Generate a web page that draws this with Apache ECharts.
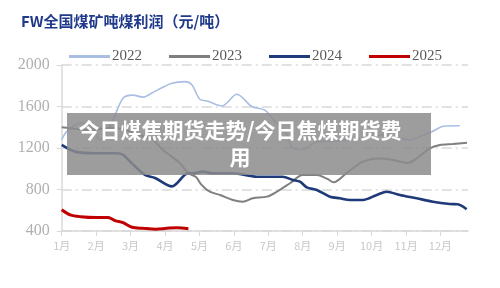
<!DOCTYPE html>
<html><head><meta charset="utf-8">
<script src="https://cdn.jsdelivr.net/npm/echarts@6/dist/echarts.min.js"></script>
<style>html,body{margin:0;padding:0;background:#fff}#c{width:500px;height:288px}</style>
</head><body><div id="c"></div>
<script>
const titleText = 'FW全国煤矿吨煤利润（元/吨）';
const overlayText = '今日煤焦期货走势/今日焦煤期货费\n用';
const monthLabels = ['1月','2月','3月','4月','5月','6月','7月','8月','9月','10月','11月','12月'];
const seriesNames = ['2022','2023','2024','2025'];
const yTicks = [400, 800, 1200, 1600, 2000];

// x positions in months since 1 Jan, values in 元/吨
const t2022 = [0,0.15,0.53,0.82,1.11,1.46,1.78,2.07,2.36,2.62,2.91,3.2,3.58,3.78,4.01,4.25,4.65,5.09,5.52,5.9,6.19,6.54,6.71,7.0,7.41,7.88,8.37,8.86,9.24,9.73,10.11,10.4,10.75,11.12,11.56];
const v2022 = [1280,1360,1440,1420,1280,1450,1680,1710,1690,1730,1780,1825,1840,1810,1670,1650,1605,1718,1600,1565,1455,1325,1200,1185,1260,1265,1280,1296,1325,1300,1277,1310,1357,1412,1415];

const t2023 = [0,0.25,0.5,0.75,1.0,1.25,1.5,1.75,2.0,2.3,2.65,2.94,3.43,3.67,3.9,4.05,4.3,4.6,4.97,5.26,5.55,5.96,6.25,6.63,7.0,7.41,7.7,7.9,8.28,8.75,9.24,9.62,10.05,10.31,10.69,10.98,11.36,11.77];
const v2023 = [1400,1390,1380,1375,1380,1390,1395,1380,1360,1320,1277,1181,1055,960,920,850,779,747,699,682,715,731,779,860,940,940,905,870,960,1068,1100,1085,1055,1100,1197,1229,1239,1251];

const t2024 = [0,0.39,0.97,1.6,1.78,2.04,2.42,2.71,3.2,3.67,3.81,4.1,4.39,4.97,5.67,6.42,6.71,6.92,7.12,7.41,7.79,8.08,8.37,8.75,9.15,9.44,9.82,10.31,10.78,11.27,11.5,11.76];
const v2024 = [1230,1165,1150,1150,1135,1052,940,911,830,956,956,972,956,956,923,923,892,875,820,795,731,715,699,699,747,779,747,715,682,660,657,609];

const t2025 = [0,0.25,0.55,1.0,1.35,1.55,1.78,2.04,2.37,2.73,3.05,3.35,3.68];
const v2025 = [605,555,538,530,530,500,480,436,426,418,426,432,422];

const colors = ['#a9bee3','#7f7f7f','#1f3a78','#c00000'];
const widths = [1.6,2,2.6,3];
const ts = [t2022,t2023,t2024,t2025];
const vs = [v2022,v2023,v2024,v2025];

const chart = echarts.init(document.getElementById('c'));
chart.setOption({
  animation:false,
  title:{text:titleText,left:16,top:9,textStyle:{fontFamily:'Noto Sans CJK SC',fontSize:15,fontWeight:'bold',color:'#1f3a8a'}},
  legend:{left:64,top:44,itemWidth:41,itemHeight:3,itemGap:27,icon:'rect',
    textStyle:{fontFamily:'Liberation Serif',fontSize:15,color:'#595959',padding:[0,0,0,-3]},data:seriesNames},
  grid:{left:61.7,right:32,top:65,bottom:57},
  xAxis:{type:'value',min:0,max:11.8,interval:1,
    axisLine:{lineStyle:{color:'#d9d9d9',width:1.5}},
    axisTick:{show:true,length:5,lineStyle:{color:'#d9d9d9'}},
    splitLine:{show:false},
    axisLabel:{showMaxLabel:false,color:'#c8c8c8',fontSize:11,fontFamily:'Noto Sans CJK SC',margin:9,
      formatter:v=>monthLabels[Math.round(v)]||''}},
  yAxis:{type:'value',min:yTicks[0],max:yTicks[yTicks.length-1],interval:400,
    axisLine:{show:true,lineStyle:{color:'#d9d9d9',width:1.5}},
    axisTick:{show:true,length:5,lineStyle:{color:'#d9d9d9'}},
    splitLine:{lineStyle:{color:'#d9d9d9',width:1.5,type:[10,4,2,4]}},
    axisLabel:{color:'#b0b0b0',fontSize:16,fontFamily:'Liberation Serif',margin:12,formatter:v=>String(v)}},
  series:seriesNames.map((n,k)=>({
    name:n,type:'line',symbol:'none',smooth:0.3,
    data:ts[k].map((x,i)=>[x,vs[k][i]]),
    lineStyle:{color:colors[k],width:widths[k]},itemStyle:{color:colors[k]}
  })),
  graphic:[
    {type:'rect',shape:{x:67,y:113,width:364,height:62},style:{fill:'rgba(140,140,140,0.85)'},z:100},
    {type:'text',x:240,y:117,z:101,style:{text:overlayText,fill:'#fff',font:'bold 21px "Noto Sans CJK SC"',
      textAlign:'center',lineHeight:27}}
  ]
});
</script></body></html>
